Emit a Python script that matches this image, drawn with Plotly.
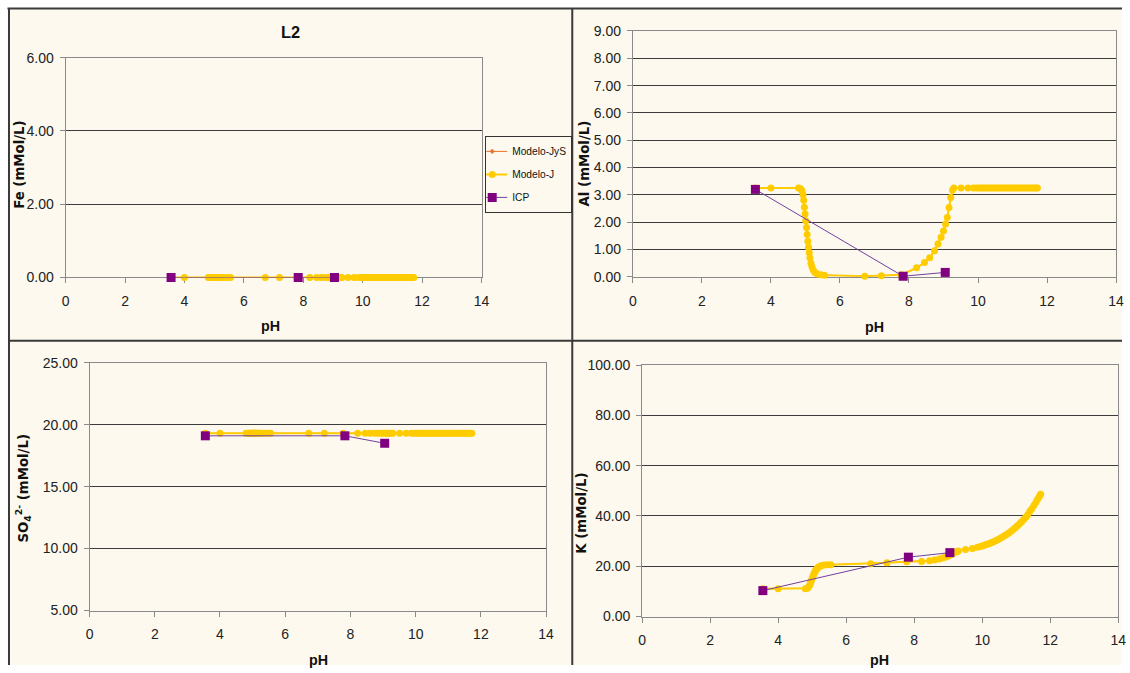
import plotly.graph_objects as go

# ---------------- data ----------------
ph_model = [3.55, 4.00, 4.80, 4.86, 4.90, 4.93, 4.95, 4.97, 4.99, 5.01, 5.03, 5.05, 5.07, 5.09, 5.11, 5.13, 5.16, 5.19, 5.23, 5.28, 5.35, 5.45, 5.55,
            6.72, 7.20, 7.78,
            8.22, 8.45, 8.60, 8.74, 8.84, 8.93, 9.00, 9.06, 9.11, 9.16, 9.21, 9.26, 9.30,
            9.51, 9.71, 9.86, 9.95, 10.02, 10.08, 10.14, 10.20, 10.26, 10.32, 10.38, 10.44, 10.50, 10.56, 10.62, 10.68, 10.74, 10.80,
            10.86, 10.92, 10.98, 11.04, 11.10, 11.16, 11.22, 11.28, 11.34, 11.40, 11.46, 11.52, 11.58, 11.63, 11.68, 11.72]

fe_model = [0.00, 0.00, 0.00, 0.00, 0.00, 0.00, 0.00, 0.00, 0.00, 0.00, 0.00, 0.00, 0.00, 0.00, 0.00, 0.00, 0.00, 0.00, 0.00, 0.00, 0.00, 0.00, 0.00,
            0.00, 0.00, 0.00,
            0.00, 0.00, 0.00, 0.00, 0.00, 0.00, 0.00, 0.00, 0.00, 0.00, 0.00, 0.00, 0.00,
            0.00, 0.00, 0.00, 0.00, 0.00, 0.00, 0.00, 0.00, 0.00, 0.00, 0.00, 0.00, 0.00, 0.00, 0.00, 0.00, 0.00, 0.00,
            0.00, 0.00, 0.00, 0.00, 0.00, 0.00, 0.00, 0.00, 0.00, 0.00, 0.00, 0.00, 0.00, 0.00, 0.00, 0.00]

al_model = [3.25, 3.25, 3.25, 3.22, 3.15, 3.00, 2.80, 2.55, 2.30, 2.05, 1.80, 1.55, 1.30, 1.08, 0.88, 0.70, 0.50, 0.36, 0.24, 0.15, 0.10, 0.07, 0.06,
            0.02, 0.04, 0.07,
            0.33, 0.52, 0.70, 0.95, 1.20, 1.45, 1.68, 1.93, 2.17, 2.54, 2.90, 3.18, 3.25,
            3.25, 3.25, 3.25, 3.25, 3.25, 3.25, 3.25, 3.25, 3.25, 3.25, 3.25, 3.25, 3.25, 3.25, 3.25, 3.25, 3.25, 3.25,
            3.25, 3.25, 3.25, 3.25, 3.25, 3.25, 3.25, 3.25, 3.25, 3.25, 3.25, 3.25, 3.25, 3.25, 3.25, 3.25]

so4_model = [19.3, 19.3, 19.3, 19.3, 19.3, 19.3, 19.3, 19.3, 19.3, 19.3, 19.3, 19.3, 19.3, 19.3, 19.3, 19.3, 19.3, 19.3, 19.3, 19.3, 19.3, 19.3, 19.3,
             19.3, 19.3, 19.3,
             19.3, 19.3, 19.3, 19.3, 19.3, 19.3, 19.3, 19.3, 19.3, 19.3, 19.3, 19.3, 19.3,
             19.3, 19.3, 19.3, 19.3, 19.3, 19.3, 19.3, 19.3, 19.3, 19.3, 19.3, 19.3, 19.3, 19.3, 19.3, 19.3, 19.3, 19.3,
             19.3, 19.3, 19.3, 19.3, 19.3, 19.3, 19.3, 19.3, 19.3, 19.3, 19.3, 19.3, 19.3, 19.3, 19.3, 19.3]

k_model = [11.0, 11.0, 11.0, 11.2, 11.8, 12.5, 13.3, 14.0, 14.8, 15.5, 16.2, 16.9, 17.5, 18.0, 18.5, 18.9, 19.3, 19.7, 20.0, 20.3, 20.5, 20.6, 20.6,
           21.0, 21.4, 21.8,
           21.9, 22.2, 22.5, 22.9, 23.3, 23.7, 24.1, 24.5, 24.9, 25.3, 25.6, 25.9, 26.1,
           26.6, 27.0, 27.5, 27.8, 28.1, 28.4, 28.7, 28.9, 29.3, 29.6, 30.0, 30.4, 30.8, 31.3, 31.8, 32.3, 32.8, 33.4,
           34.0, 34.7, 35.4, 36.1, 36.9, 37.7, 38.6, 39.5, 40.5, 41.8, 42.9, 44.1, 45.4, 46.6, 47.7, 48.6]

ph_icp = [3.55, 7.83, 9.05]
fe_icp = [0.00, 0.00, 0.00]
al_icp = [3.20, 0.02, 0.16]
so4_icp = [19.1, 19.1, 18.5]
k_icp = [10.3, 23.6, 25.4]

series_names = ["Modelo-JyS", "Modelo-J", "ICP"]
x_ticks = [0, 2, 4, 6, 8, 10, 12, 14]

# ---------------- layout helpers ----------------
W, H = 1130, 673
# observed page placement of the figure: page = A + S * figure pixel
SX, AX = 0.991, 1.5
SY, AY = 0.977, 7.0
def fx(px):
    return ((px - AX) / SX) / W
def fy(py):
    return 1 - ((py - AY) / SY) / H

CREAM = "#FDF9EE"
SANS = "Liberation Sans, Arial, sans-serif"
WIDE_BOLD = "DejaVu Sans, Verdana, sans-serif"
C_JYS = "#E8742A"
C_J = "#FFCC00"
C_ICP = "#800080"
C_ICP_LINE = "#7040A0"

panels = [
    dict(m=fe_model, i=fe_icp, yr=[0, 6], dt=2, xd=(63.2, 479.8), yd=(56.7, 276.7),
         ylab="Fe (mMol/L)", ylp=(17.5, 164), xlp=(268, 325)),
    dict(m=al_model, i=al_icp, yr=[0, 9], dt=1, xd=(631.4, 1115.4), yd=(30, 276),
         ylab="Al (mMol/L)", ylp=(583, 163), xlp=(873, 326.5)),
    dict(m=so4_model, i=so4_icp, yr=[5, 25], dt=5, xd=(87.2, 544.5), yd=(362, 610),
         ylab="SO<sub>4</sub><sup>2-</sup> (mMol/L)", ylp=(20.5, 487), xlp=(317, 660)),
    dict(m=k_model, i=k_icp, yr=[0, 100], dt=20, xd=(640.7, 1117.5), yd=(364.3, 616),
         ylab="K (mMol/L)", ylp=(580.5, 513), xlp=(878, 660)),
]

fig = go.Figure()
annotations = []
for n, p in enumerate(panels, start=1):
    xa = "x" if n == 1 else f"x{n}"
    ya = "y" if n == 1 else f"y{n}"
    show = (n == 1)
    fig.add_trace(go.Scatter(x=ph_model, y=p["m"], name=series_names[0], legendgroup="g1", mode="lines+markers",
                             line=dict(color=C_JYS, width=1), marker=dict(symbol="diamond", size=4, color=C_JYS),
                             xaxis=xa, yaxis=ya, showlegend=show, cliponaxis=False))
    fig.add_trace(go.Scatter(x=ph_model, y=p["m"], name=series_names[1], legendgroup="g2", mode="lines+markers",
                             line=dict(color=C_J, width=2), marker=dict(symbol="circle", size=7, color=C_J),
                             xaxis=xa, yaxis=ya, showlegend=show, cliponaxis=False))
    fig.add_trace(go.Scatter(x=ph_icp, y=p["i"], name=series_names[2], legendgroup="g3", mode="lines+markers",
                             line=dict(color=C_ICP_LINE, width=1), marker=dict(symbol="square", size=9, color=C_ICP),
                             xaxis=xa, yaxis=ya, showlegend=show, cliponaxis=False))

    axis_common = dict(showline=True, linecolor="#8a8a8a", linewidth=1, mirror=True, zeroline=False,
                       ticks="outside", ticklen=5, tickcolor="#8a8a8a",
                       tickfont=dict(family=SANS, size=14, color="#222222"))
    xkey = "xaxis" if n == 1 else f"xaxis{n}"
    ykey = "yaxis" if n == 1 else f"yaxis{n}"
    fig.update_layout({
        xkey: dict(domain=[fx(p["xd"][0]), fx(p["xd"][1])], anchor=ya, range=[0, 14],
                   tickvals=x_ticks, showgrid=False, layer="below traces",
                   ticklabelstandoff=6, **axis_common),
        ykey: dict(domain=[fy(p["yd"][1]), fy(p["yd"][0])], anchor=xa, range=p["yr"],
                   dtick=p["dt"], tick0=p["yr"][0], tickformat=".2f", showgrid=True,
                   gridcolor="#3c3c3c", gridwidth=1, layer="below traces",
                   ticklabelstandoff=3, **axis_common),
    })
    annotations.append(dict(text="<b>" + p["ylab"] + "</b>", x=fx(p["ylp"][0]), y=fy(p["ylp"][1]),
                            xref="paper", yref="paper",
                            textangle=-90, showarrow=False, xanchor="center", yanchor="middle",
                            font=dict(family=WIDE_BOLD, size=13.3, color="#111111")))
    annotations.append(dict(text="<b>pH</b>", x=fx(p["xlp"][0]), y=fy(p["xlp"][1]), xref="paper", yref="paper",
                            showarrow=False, xanchor="center", yanchor="middle",
                            font=dict(family=SANS, size=14.3, color="#111111")))

annotations.append(dict(text="<b>L2</b>", x=fx(288), y=fy(31.5), xref="paper", yref="paper",
                        showarrow=False, xanchor="center", yanchor="middle",
                        font=dict(family=SANS, size=16.4, color="#111111")))

LINE = dict(color="#3a3a3a", width=2)
shapes = [
    dict(type="rect", xref="paper", yref="paper", x0=fx(6), x1=1, y0=0, y1=fy(6.7),
         fillcolor=CREAM, line=dict(width=0), layer="below"),
    dict(type="line", xref="paper", yref="paper", x0=fx(5), x1=1, y0=fy(7.5), y1=fy(7.5), line=LINE),
    dict(type="line", xref="paper", yref="paper", x0=fx(6.5), x1=fx(6.5), y0=0, y1=fy(7), line=LINE),
    dict(type="line", xref="paper", yref="paper", x0=fx(570.7), x1=fx(570.7), y0=0, y1=fy(7), line=LINE),
    dict(type="line", xref="paper", yref="paper", x0=fx(6), x1=1, y0=fy(340), y1=fy(340), line=LINE),
]

fig.update_layout(
    width=W, height=H, margin=dict(l=0, r=0, t=0, b=0),
    paper_bgcolor="white", plot_bgcolor=CREAM,
    annotations=annotations, shapes=shapes,
    legend=dict(x=fx(483.5), y=fy(135), xanchor="left", yanchor="top",
                bgcolor=CREAM, bordercolor="#333333", borderwidth=1,
                font=dict(family=SANS, size=10.2, color="#111111"),
                indentation=-14, tracegroupgap=4),
)

fig.write_html("out.html")
